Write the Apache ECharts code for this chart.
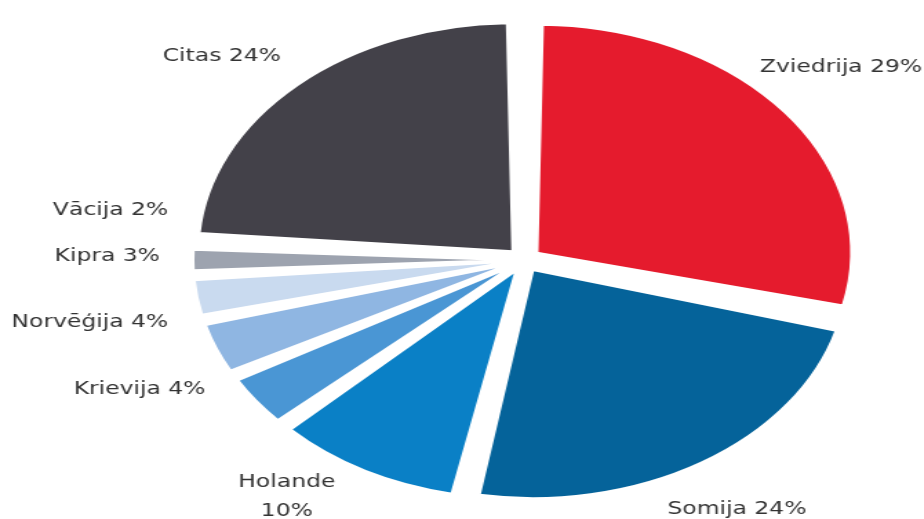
<!DOCTYPE html>
<html>
<head>
<meta charset="utf-8">
<script src="https://cdn.jsdelivr.net/npm/echarts@6/dist/echarts.min.js"></script>
<style>
  html, body { margin: 0; padding: 0; background: #fff; overflow: hidden; }
  /* the chart is laid out narrower and widened horizontally, giving the oval pie */
  #chart { width: 670px; height: 519px; transform: scaleX(1.379); transform-origin: 0 0; }
</style>
</head>
<body>
<div id="chart"></div>
<script>
// Country shares (%)
const countries = ['Zviedrija', 'Somija', 'Holande', 'Krievija', 'Norvēģija', 'Kipra', 'Vācija', 'Citas'];
const shares = [29, 24, 10, 4, 4, 3, 2, 24];
const colors = ['#e51b2d', '#05639a', '#0a80c6', '#4a96d4', '#8fb6e2', '#c9daef', '#9da3af', '#434149'];

// Label anchors (in the unscaled 670px-wide layout) and text alignment
const labelSpots = {
  'Zviedrija': { x: 551, y: 68,  align: 'left' },
  'Somija':    { x: 484, y: 510, align: 'left' },
  'Holande':   { x: 208, y: 497, align: 'center' },
  'Krievija':  { x: 149, y: 390, align: 'right' },
  'Norvēģija': { x: 122, y: 323, align: 'right' },
  'Kipra':     { x: 116, y: 257, align: 'right' },
  'Vācija':    { x: 122, y: 211, align: 'right' },
  'Citas':     { x: 118, y: 57,  align: 'left' }
};

const chart = echarts.init(document.getElementById('chart'), null, { renderer: 'canvas' });

const pieCenter = [380, 260];
const pieRadius = [0, 228];

chart.setOption({
  animation: false,
  series: [
    {
      // exploded slices
      type: 'pie',
      center: pieCenter,
      radius: pieRadius,
      startAngle: 90,
      clockwise: true,
      selectedMode: 'multiple',
      selectedOffset: 12,
      padAngle: 2,
      itemStyle: { borderColor: '#fff', borderWidth: 2 },
      emphasis: { disabled: true },
      label: { show: false },
      labelLine: { show: false },
      data: countries.map((name, i) => ({
        name,
        value: shares[i],
        selected: true,
        itemStyle: { color: colors[i] }
      }))
    },
    {
      // category labels
      type: 'pie',
      center: pieCenter,
      radius: pieRadius,
      startAngle: 90,
      clockwise: true,
      silent: true,
      avoidLabelOverlap: false,
      itemStyle: { color: 'rgba(0,0,0,0)', borderWidth: 0 },
      emphasis: { disabled: true },
      label: {
        show: true,
        position: 'outside',
        fontFamily: 'DejaVu Sans',
        fontSize: 17,
        lineHeight: 29,
        color: '#333',
        formatter: p => p.name === 'Holande' ? p.name + '\n' + p.value + '%' : p.name + ' ' + p.value + '%'
      },
      labelLine: { show: false },
      labelLayout: params => {
        const s = labelSpots[countries[params.dataIndex]];
        return { x: s.x, y: s.y, align: s.align, verticalAlign: 'middle' };
      },
      data: countries.map((name, i) => ({ name, value: shares[i] }))
    }
  ]
});
</script>
</body>
</html>
